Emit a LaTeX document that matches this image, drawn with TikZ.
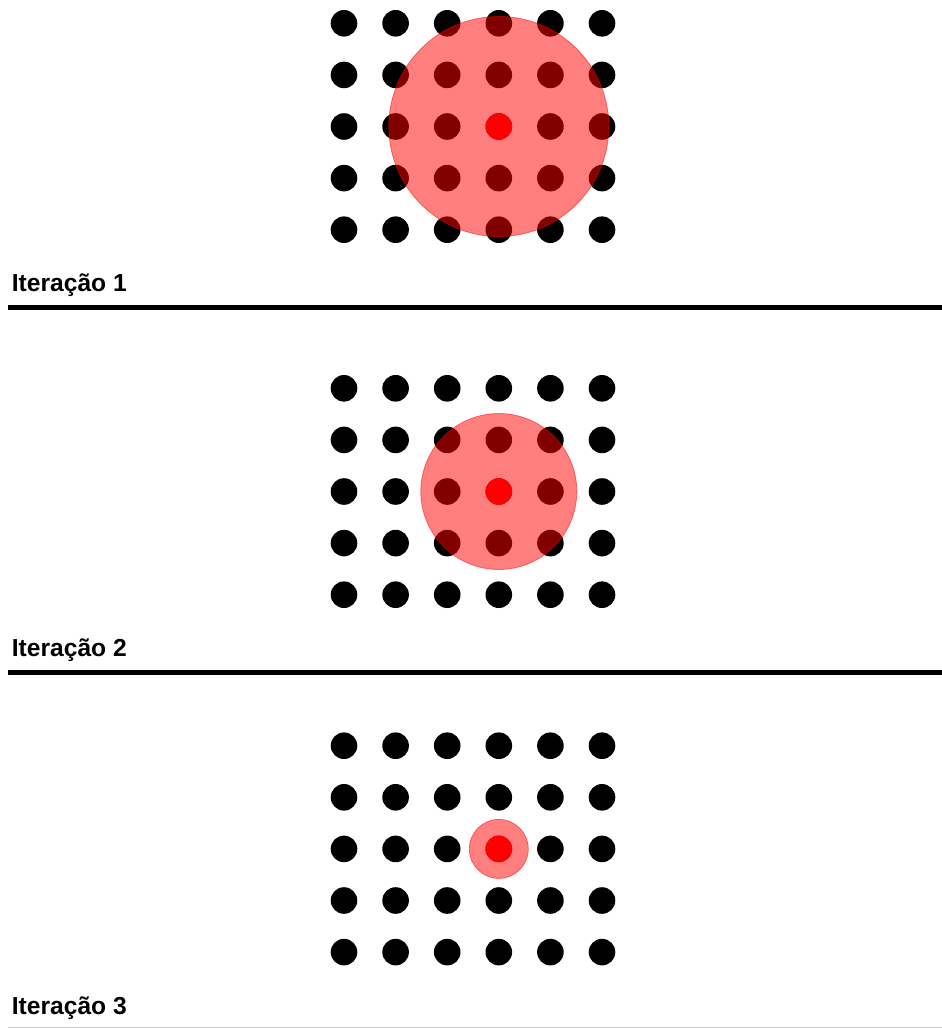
\documentclass[tikz,border=0pt]{standalone}
\usepackage{fontspec}
\setmainfont{Liberation Sans}
\usepackage{tikz}
\usetikzlibrary{positioning}
\definecolor{seedred}{HTML}{FF0000}
\definecolor{rulegray}{HTML}{CFCFCF}

\tikzset{
  gridpt/.style={circle, fill=black, inner sep=0pt, minimum size=26.6pt},
  seedpt/.style={circle, fill=seedred, inner sep=0pt, minimum size=26.6pt},
  reach/.style={circle, fill=seedred, draw=seedred, opacity=0.5,
                line width=0.8pt, inner sep=0pt},
  steplabel/.style={anchor=base west, inner sep=0pt,
                    font=\fontsize{24.6}{26}\selectfont\bfseries},
  splitline/.style={line width=4.5pt},
}

\begin{document}
\begin{tikzpicture}[x=1pt, y=-1pt]
  \useasboundingbox (0,0) rectangle (942,1028);
  % one panel per iteration: number / top row / radius / label baseline
  \foreach \k/\top/\rad/\base in {1/23.3/110/291.5, 2/388.3/78/656, 3/745.7/29.5/1014}{
    \foreach \c in {0,...,5}{
      \foreach \r in {0,...,4}{
        \node[gridpt] (d-\k-\c-\r) at ({344+51.6*\c}, {\top+51.6*\r}) {};
      }
    }
    \node[reach, minimum size=2*\rad pt] (reach-\k) at (d-\k-3-2) {};
    \node[seedpt] (seed-\k) at (d-\k-3-2) {};
    \node[steplabel] (lbl-\k) at (11.7, \base) {Iteração \k};
  }
  % separators
  \coordinate (sepA-l) at (8, 307.5);
  \coordinate (sepA-r) at (942, 307.5);
  \coordinate (sepB-l) at (8, 672.5);
  \coordinate (sepB-r) at (942, 672.5);
  \coordinate (foot-l) at (8, 1027.4);
  \coordinate (foot-r) at (942, 1027.4);
  \draw[splitline] (sepA-l) -- (sepA-r);
  \draw[splitline] (sepB-l) -- (sepB-r);
  \draw[rulegray, line width=1.2pt] (foot-l) -- (foot-r);
\end{tikzpicture}
\end{document}
